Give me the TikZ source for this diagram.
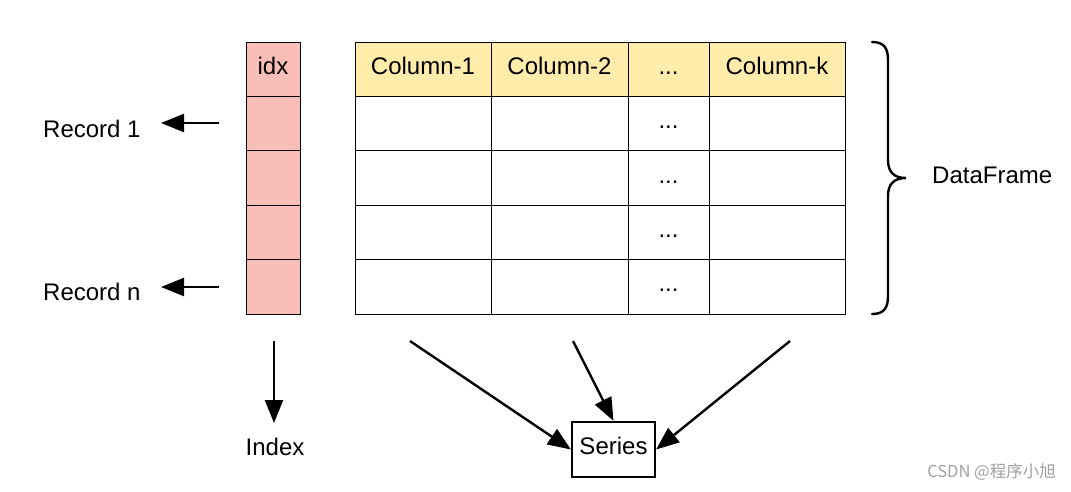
\documentclass[tikz,border=0pt]{standalone}
\usepackage{fontspec}
\setmainfont{Liberation Sans}
\newfontfamily\cjk{Noto Sans CJK SC}
\usetikzlibrary{arrows.meta}
\definecolor{pinkc}{RGB}{248,190,183}
\definecolor{yellowc}{RGB}{255,236,170}
\definecolor{wmgray}{RGB}{160,160,160}
\tikzset{
  cell/.style={draw=black,line width=0.8pt,inner sep=0pt,minimum height=54.4pt,
    text height=13pt,text depth=3pt,font=\fontsize{24}{26}\selectfont},
  idxcell/.style={cell,fill=pinkc,minimum width=54pt},
  head/.style={cell,fill=yellowc},
  lbl/.style={inner sep=0pt,font=\fontsize{24}{26}\selectfont},
  arr/.style={line width=2.4pt,-{Triangle[length=23pt,width=18pt]}},
  sbox/.style={draw=black,line width=2.2pt,minimum width=83pt,minimum height=55pt,
    inner sep=0pt,text height=13pt,text depth=3pt,font=\fontsize{24}{26}\selectfont}
}
\begin{document}
\begin{tikzpicture}[x=1pt,y=-1pt]
\useasboundingbox (0,0) rectangle (1071,491);
% index column
\node[idxcell] (i0) at (273,69.2) {idx};
\node[idxcell] (i1) at (273,123.6) {};
\node[idxcell] (i2) at (273,178.0) {};
\node[idxcell] (i3) at (273,232.4) {};
\node[idxcell] (i4) at (273,286.8) {};
% header
\node[head,minimum width=136pt] (h1) at (423,69.2) {Column-1};
\node[head,minimum width=137pt] (h2) at (559.5,69.2) {Column-2};
\node[head,minimum width=81pt] (h3) at (668.5,69.2) {...};
\node[head,minimum width=136pt] (h4) at (777,69.2) {Column-k};
% body rows
\foreach \r/\y in {1/123.6,2/178.0,3/232.4,4/286.8}{
  \node[cell,minimum width=136pt] (c1\r) at (423,\y) {};
  \node[cell,minimum width=137pt] (c2\r) at (559.5,\y) {};
  \node[cell,minimum width=81pt] (c3\r) at (668.5,\y) {...};
  \node[cell,minimum width=136pt] (c4\r) at (777,\y) {};
}
% record labels
\node[lbl,anchor=base west] (rec1) at (43,137) {Record 1};
\node[lbl,anchor=base west] (recn) at (43,300) {Record n};
\coordinate (r1s) at (219,123);
\coordinate (r1e) at (161,123);
\coordinate (rns) at (219,287);
\coordinate (rne) at (161,287);
\draw[arr] (r1s) -- (r1e);
\draw[arr] (rns) -- (rne);
% index
\node[lbl,anchor=base] (index) at (275,455) {Index};
\coordinate (ixs) at (274,341);
\coordinate (ixe) at (274,423);
\draw[arr] (ixs) -- (ixe);
% series
\node[sbox] (series) at (613.5,449.5) {Series};
\coordinate (sa) at (410,341);
\coordinate (sb) at (573,341);
\coordinate (sc) at (790,341);
\draw[arr] (sa) -- (series.west);
\draw[arr] (sb) -- (series.north);
\draw[arr] (sc) -- (series.east);
% brace
\draw[line width=2.4pt,line cap=round]
  (872,42) .. controls (884,42) and (888,48) .. (888,60) -- (888,160)
  .. controls (888,172) and (894,178) .. (906,178)
  .. controls (894,178) and (888,184) .. (888,196) -- (888,296)
  .. controls (888,308) and (884,314) .. (872,314);
\node[lbl,anchor=base west] (df) at (932,183) {DataFrame};
% watermark
\node[inner sep=0pt,anchor=east,text=wmgray,font=\cjk\fontsize{16.5}{18}\selectfont] (wm) at (1056,472) {CSDN @程序小旭};
\end{tikzpicture}
\end{document}
